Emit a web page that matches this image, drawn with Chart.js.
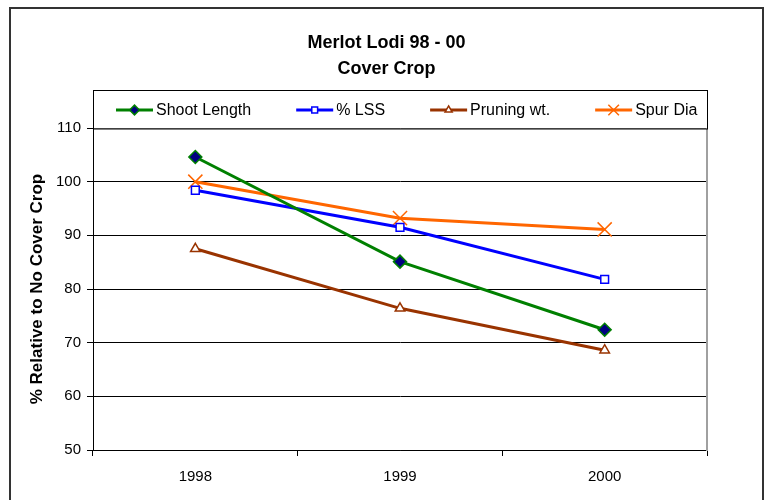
<!DOCTYPE html>
<html><head><meta charset="utf-8">
<script src="https://cdn.jsdelivr.net/npm/chart.js@4.4.0/dist/chart.umd.min.js"></script>
<style>html,body{margin:0;padding:0;background:#fff;}#wrap{width:765px;height:500px;position:relative;}</style>
</head><body><div id="wrap"><canvas id="c" width="765" height="500"></canvas></div>
<script>
// ---- data ----
const years = ['1998', '1999', '2000'];
const shootLength = [104.6, 85.1, 72.4];
const pctLSS = [98.4, 91.5, 81.8];
const pruningWt = [87.5, 76.4, 68.6];
const spurDia = [100.0, 93.2, 91.1];
const seriesNames = ['Shoot Length', '% LSS', 'Pruning wt.', 'Spur Dia'];
const yMin = 50, yMax = 110, yStep = 10;
const titleLines = ['Merlot Lodi 98 - 00', 'Cover Crop'];
const yTitle = '% Relative to No Cover Crop';

const FAMILY = "'Liberation Sans', Arial, Helvetica, sans-serif";
Chart.defaults.font.family = FAMILY;
Chart.defaults.color = '#000';

const frame = {
  id: 'frame',
  beforeDraw(chart) {
    const ctx = chart.ctx;
    ctx.save();
    ctx.fillStyle = '#fff';
    ctx.fillRect(0, 0, chart.width, chart.height);
    ctx.strokeStyle = '#333';
    ctx.lineWidth = 2;
    ctx.strokeRect(10, 8, 753, 500);
    ctx.restore();
  }
};

const boxLegend = {
  id: 'boxLegend',
  afterDraw(chart) {
    const {ctx, chartArea: a} = chart;
    const top = a.top - 38, left = a.left, right = a.right + 1, bottom = a.top + 0.5;
    ctx.save();
    ctx.fillStyle = '#fff';
    ctx.fillRect(left, top, right - left, bottom - top);
    ctx.strokeStyle = '#000';
    ctx.lineWidth = 1;
    ctx.strokeRect(left + 0.5, top + 0.5, right - left - 1, bottom - top);
    const cy = top + 20;
    let x = left + 23;
    ctx.font = '16px ' + FAMILY;
    ctx.textBaseline = 'middle';
    chart.data.datasets.forEach(ds => {
      ctx.strokeStyle = ds.borderColor;
      ctx.lineWidth = ds.borderWidth;
      ctx.beginPath();
      ctx.moveTo(x, cy); ctx.lineTo(x + 37, cy);
      ctx.stroke();
      ctx.fillStyle = ds.pointBackgroundColor;
      ctx.strokeStyle = ds.pointBorderColor;
      ctx.lineWidth = ds.pointBorderWidth;
      Chart.helpers.drawPoint(ctx, {pointStyle: ds.pointStyle, radius: ds.pointRadius * 0.75, rotation: 0, borderWidth: ds.pointBorderWidth}, x + 18.5, cy);
      ctx.fillStyle = '#000';
      ctx.fillText(ds.label, x + 40, cy + 1);
      x += 40 + ctx.measureText(ds.label).width + 45;
    });
    ctx.restore();
  }
};

new Chart(document.getElementById('c'), {
  type: 'line',
  data: {
    labels: years,
    datasets: [
      {label: seriesNames[0], data: shootLength, borderColor: '#008000', borderWidth: 3,
       pointStyle: 'rectRot', pointRadius: 6.5, pointBackgroundColor: '#000080', pointBorderColor: '#008000', pointBorderWidth: 1.5},
      {label: seriesNames[1], data: pctLSS, borderColor: '#0000ff', borderWidth: 3,
       pointStyle: 'rect', pointRadius: 5.5, pointBackgroundColor: '#ffffff', pointBorderColor: '#0000ff', pointBorderWidth: 1.5},
      {label: seriesNames[2], data: pruningWt, borderColor: '#993300', borderWidth: 3,
       pointStyle: 'triangle', pointRadius: 5.5, pointBackgroundColor: '#ffffff', pointBorderColor: '#993300', pointBorderWidth: 1.5},
      {label: seriesNames[3], data: spurDia, borderColor: '#ff6600', borderWidth: 3,
       pointStyle: 'crossRot', pointRadius: 10, pointBackgroundColor: '#ff6600', pointBorderColor: '#ff6600', pointBorderWidth: 1.5}
    ]
  },
  options: {
    responsive: false,
    animation: false,
    devicePixelRatio: 1,
    layout: {padding: {top: 10, left: 10, right: 2, bottom: 0}},
    elements: {line: {tension: 0}},
    plugins: {
      legend: {display: false},
      tooltip: {enabled: false},
      title: {display: true, text: titleLines, color: '#000',
        font: {size: 18, weight: 'bold', lineHeight: 26 / 18}, padding: {top: 20, bottom: 46}}
    },
    scales: {
      x: {
        type: 'category', offset: true,
        grid: {offset: true, drawOnChartArea: false, drawTicks: true, tickLength: 6, color: '#000'},
        border: {display: true, color: '#000', width: 1},
        ticks: {color: '#000', font: {size: 15}, padding: 12},
        afterFit(s) { s.height = 50; }
      },
      y: {
        min: yMin, max: yMax,
        ticks: {stepSize: yStep, color: '#000', font: {size: 15}, padding: 6},
        grid: {color: '#000', tickLength: 6},
        border: {display: true, color: '#000', width: 1},
        title: {display: true, text: yTitle, color: '#000', font: {size: 17, weight: 'bold'}, padding: {top: 17, bottom: 0}},
        afterFit(s) { s.width = 83; }
      },
      yR: {
        position: 'right', display: true,
        grid: {display: false, drawTicks: false},
        ticks: {display: false},
        border: {display: true, color: '#a0a0a0', width: 2},
        afterFit(s) { s.width = 56; }
      }
    }
  },
  plugins: [frame, boxLegend]
});
</script></body></html>
